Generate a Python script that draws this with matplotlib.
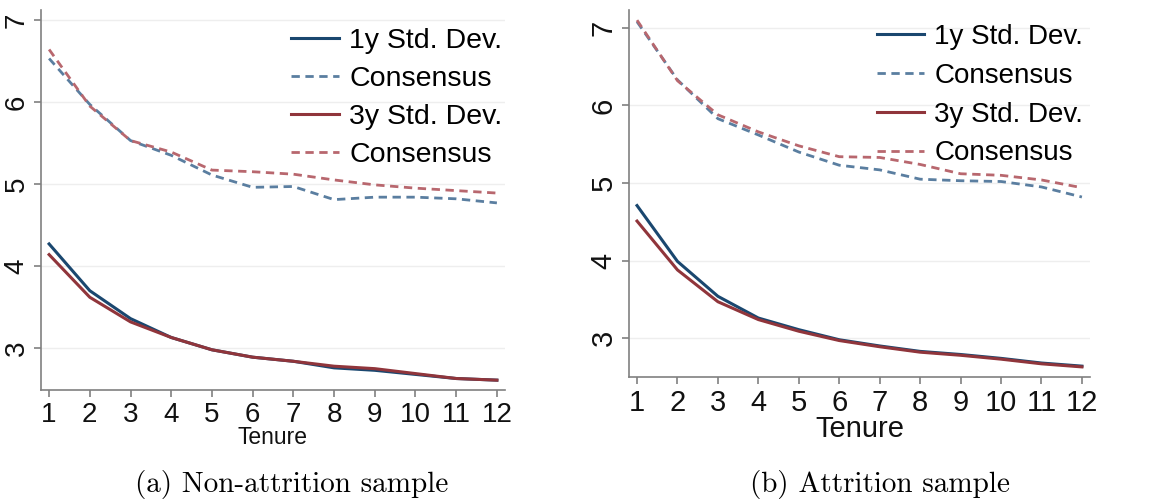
import os
import matplotlib
matplotlib.use("Agg")
import matplotlib.pyplot as plt
from matplotlib.font_manager import FontProperties

tenure = [1, 2, 3, 4, 5, 6, 7, 8, 9, 10, 11, 12]

# (a) Non-attrition sample
a_sd1 = [4.27, 3.70, 3.36, 3.13, 2.98, 2.89, 2.84, 2.76, 2.73, 2.68, 2.63, 2.61]
a_cons1 = [6.53, 5.97, 5.53, 5.35, 5.11, 4.96, 4.97, 4.81, 4.84, 4.84, 4.82, 4.77]
a_sd3 = [4.14, 3.62, 3.32, 3.13, 2.98, 2.89, 2.84, 2.78, 2.75, 2.69, 2.63, 2.61]
a_cons3 = [6.64, 5.95, 5.53, 5.39, 5.17, 5.15, 5.12, 5.05, 4.99, 4.95, 4.92, 4.89]

# (b) Attrition sample
b_sd1 = [4.71, 3.99, 3.54, 3.26, 3.11, 2.98, 2.90, 2.83, 2.79, 2.74, 2.68, 2.64]
b_cons1 = [7.08, 6.33, 5.83, 5.62, 5.40, 5.23, 5.17, 5.05, 5.03, 5.02, 4.95, 4.82]
b_sd3 = [4.51, 3.88, 3.47, 3.24, 3.09, 2.97, 2.89, 2.82, 2.78, 2.73, 2.67, 2.63]
b_cons3 = [7.10, 6.32, 5.88, 5.66, 5.48, 5.34, 5.33, 5.24, 5.12, 5.10, 5.04, 4.94]

labels = ["1y Std. Dev.", "Consensus", "3y Std. Dev.", "Consensus"]
captions = ["(a) Non-attrition sample", "(b) Attrition sample"]

plt.rcParams['font.family'] = ['Liberation Sans', 'DejaVu Sans']

cm_path = os.path.join(matplotlib.get_data_path(), "fonts", "ttf", "cmr10.ttf")
cap_font = FontProperties(fname=cm_path, size=21)

BLUE = "#1a476f"
RED = "#90353b"
BLUE_D = "#5a7ea0"
RED_D = "#b8676e"
GREY = "#808080"

fig = plt.figure(figsize=(11.57, 5.04), dpi=100)
ax_a = fig.add_axes([0.0354, 0.2262, 0.4011, 0.7538])
ax_b = fig.add_axes([0.5436, 0.252, 0.3985, 0.728])

# axes, series, ylim, tick size, xlabel size, legend size, legend anchor, spacing
panels = [
    (ax_a, a_sd1, a_cons1, a_sd3, a_cons3, (2.49, 7.12), 20, 16.5, 20.5, (1.025, 0.99), 0.42),
    (ax_b, b_sd1, b_cons1, b_sd3, b_cons3, (2.50, 7.23), 21, 21, 20, (1.015, 1.0), 0.46),
]

for ax, sd1, c1, sd3, c3, ylim, fs, xfs, lfs, anchor, lsp in panels:
    ax.plot(tenure, sd1, color=BLUE, lw=2.2, label=labels[0])
    ax.plot(tenure, c1, color=BLUE_D, lw=2.0, dashes=(3, 2), label=labels[1])
    ax.plot(tenure, sd3, color=RED, lw=2.2, label=labels[2])
    ax.plot(tenure, c3, color=RED_D, lw=2.0, dashes=(3, 2), label=labels[3])

    ax.set_xlim(0.8, 12.2)
    ax.set_ylim(*ylim)
    ax.set_xticks(tenure)
    ax.set_yticks([3, 4, 5, 6, 7])
    ax.grid(axis='y', color='#eeeeee', lw=1)
    ax.set_axisbelow(True)
    for s in ['top', 'right']:
        ax.spines[s].set_visible(False)
    for s in ['left', 'bottom']:
        ax.spines[s].set_color(GREY)
        ax.spines[s].set_linewidth(1.2)
    ax.tick_params(colors=GREY, labelcolor='#111111', labelsize=fs, length=5, width=1.2)
    ax.tick_params(axis='y', pad=3)
    for t in ax.get_yticklabels():
        t.set_rotation(90)
        t.set_va('center')
    ax.set_xlabel("Tenure", fontsize=xfs, labelpad=-1, color='#111111')

    ax.legend(loc='upper right', bbox_to_anchor=anchor, frameon=False,
              fontsize=lfs, handlelength=1.7, handletextpad=0.35,
              labelspacing=lsp, borderaxespad=0.1)

fig.text(0.252, 0.038, captions[0], fontproperties=cap_font, ha='center', va='center')
fig.text(0.761, 0.038, captions[1], fontproperties=cap_font, ha='center', va='center')

fig.savefig("out.png", dpi=100)
